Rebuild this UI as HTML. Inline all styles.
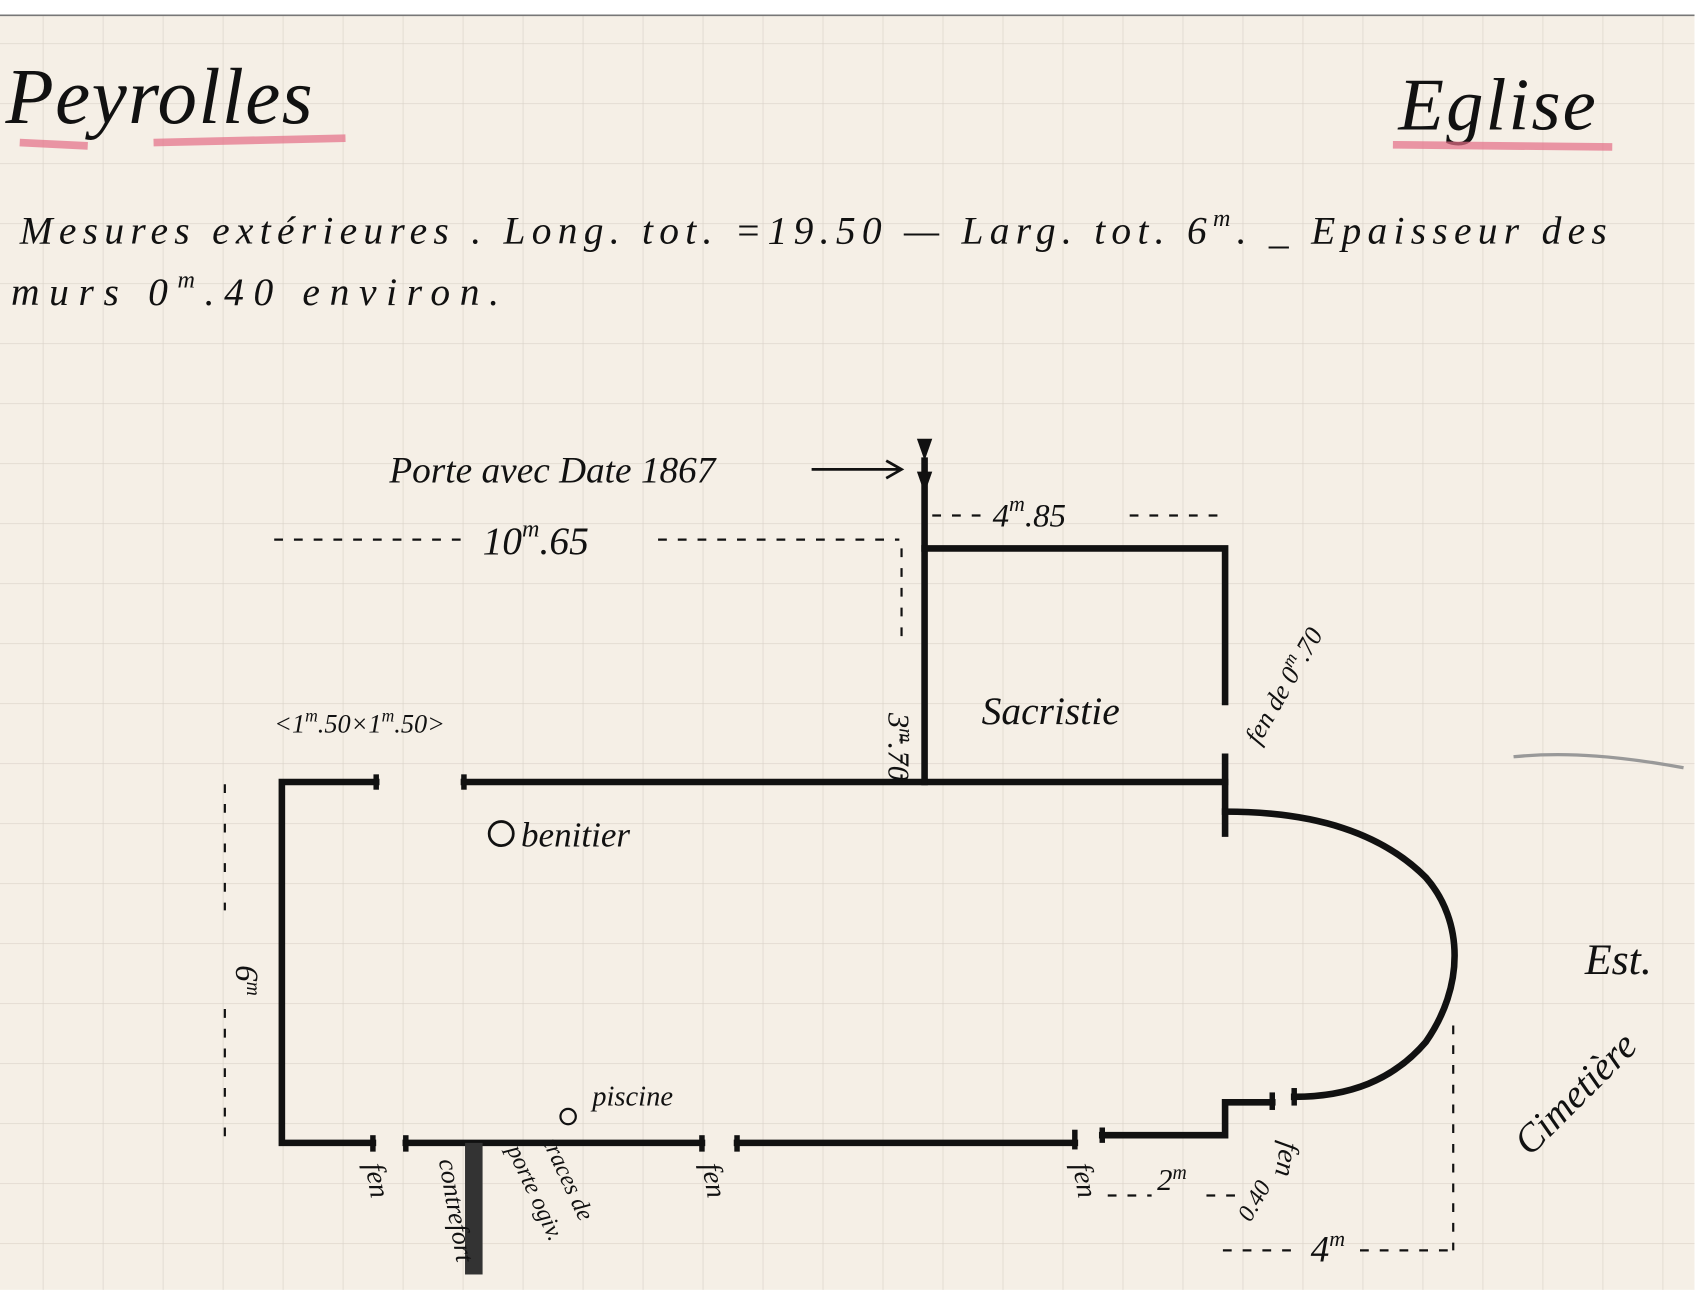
<!DOCTYPE html>
<html><head><meta charset="utf-8"><style>
html,body{margin:0;padding:0;background:#fff;}
svg{display:block;}
text{font-family:"Liberation Serif",serif;font-style:italic;fill:#111;}
</style></head><body>
<svg width="1700" height="1303" viewBox="0 0 1550 1188" preserveAspectRatio="none" xmlns="http://www.w3.org/2000/svg">
<defs>
<pattern id="g" x="39" y="39.5" width="54.7" height="54.7" patternUnits="userSpaceOnUse">
<path d="M0 0H54.7M0 0V54.7" stroke="#d9d2c8" stroke-width="1.2" fill="none"/>
</pattern>
</defs>
<rect x="0" y="0" width="1550" height="1188" fill="#fff"/>
<rect x="0" y="14" width="1545" height="1162" fill="#f5efe6"/>
<rect x="0" y="14" width="1545" height="1162" fill="url(#g)"/>
<line x1="0" y1="14" x2="1545" y2="14" stroke="#777" stroke-width="1.5"/>

<text x="5" y="112" font-size="72" textLength="280">Peyrolles</text>
<path d="M18 130 L80 133 M140 130 L315 126" stroke="#e46d86" stroke-width="7" opacity="0.7" fill="none"/>
<text x="1275" y="118" font-size="68" textLength="180">Eglise</text>
<path d="M1270 132 L1470 134" stroke="#e46d86" stroke-width="7" opacity="0.7" fill="none"/>
<text x="18" y="222" font-size="36" textLength="1447" lengthAdjust="spacing">Mesures extérieures . Long. tot. =19.50 — Larg. tot. 6<tspan font-size="22" dy="-16">m</tspan><tspan dy="16">. _ Epaisseur des</tspan></text>
<text x="10" y="278" font-size="36" textLength="445" lengthAdjust="spacing">murs  0<tspan font-size="22" dy="-16">m</tspan><tspan dy="16">.40 environ.</tspan></text>

<g stroke="#111" stroke-width="6" fill="none" stroke-linecap="square">
<path d="M343 713 H257 V1042 H340"/>
<path d="M423 713 H1117"/>
<path d="M370 1042 H640"/>
<path d="M672 1042 H980"/>
<path d="M1005 1035 H1117 V1005 H1160"/>
<path d="M843 420 V713"/>
<path d="M843 500 H1117 V640"/>
<path d="M1117 690 V760"/>
<path d="M1117 740 C1200 740 1260 760 1300 800 C1335 840 1335 900 1300 950 C1270 985 1230 1000 1180 1000"/>
</g>
<g stroke="#111" stroke-width="5">
<line x1="343" y1="706" x2="343" y2="720"/><line x1="423" y1="706" x2="423" y2="720"/>
<line x1="340" y1="1035" x2="340" y2="1050"/><line x1="370" y1="1035" x2="370" y2="1050"/>
<line x1="640" y1="1035" x2="640" y2="1050"/><line x1="672" y1="1035" x2="672" y2="1050"/>
<line x1="980" y1="1030" x2="980" y2="1048"/><line x1="1005" y1="1028" x2="1005" y2="1042"/>
<line x1="1160" y1="996" x2="1160" y2="1012"/><line x1="1180" y1="992" x2="1180" y2="1008"/>
</g>
<rect x="424" y="1042" width="16" height="120" fill="#333"/>
<circle cx="457" cy="760" r="11" stroke="#111" stroke-width="2.5" fill="none"/>
<circle cx="518" cy="1018" r="7" stroke="#111" stroke-width="2" fill="none"/>
<path d="M836 400 L850 400 L843 420 Z M836 430 L850 430 L843 450Z" fill="#111"/>

<g stroke="#111" stroke-width="2" stroke-dasharray="8 10" fill="none">
<path d="M250 492 H420 M600 492 H820"/>
<path d="M850 470 H900 M1030 470 H1115"/>
<path d="M822 500 V580 M822 670 V710"/>
<path d="M205 715 V830 M205 920 V1040"/>
<path d="M1010 1090 H1050 M1100 1090 H1130"/>
<path d="M1115 1140 H1180 M1240 1140 H1330"/>
<path d="M1325 935 V1140"/>
</g>
<path d="M740 428 H822 M808 420 L822 428 L808 436" stroke="#111" stroke-width="2.5" fill="none"/>

<text x="355" y="440" font-size="34">Porte avec Date 1867</text>
<text x="440" y="505" font-size="36">10<tspan font-size="22" dy="-16">m</tspan><tspan dy="16">.65</tspan></text>
<text x="905" y="480" font-size="30">4<tspan font-size="20" dy="-14">m</tspan><tspan dy="14">.85</tspan></text>
<text x="250" y="668" font-size="24">&lt;1<tspan font-size="16" dy="-10">m</tspan><tspan dy="10">.50×1</tspan><tspan font-size="16" dy="-10">m</tspan><tspan dy="10">.50&gt;</tspan></text>
<text x="895" y="660" font-size="36">Sacristie</text>
<text x="475" y="772" font-size="32">benitier</text>
<text x="540" y="1008" font-size="26">piscine</text>
<text x="1445" y="888" font-size="40">Est.</text>
<text transform="translate(1395 1055) rotate(-45)" font-size="36">Cimetière</text>
<text transform="translate(1148 680) rotate(-60)" font-size="24">fen de 0<tspan font-size="16" dy="-10">m</tspan><tspan dy="10">.70</tspan></text>
<text transform="translate(810 650) rotate(90)" font-size="28">3<tspan font-size="18" dy="-10">m</tspan><tspan dy="10">.70</tspan></text>
<text transform="translate(215 880) rotate(90)" font-size="30">6<tspan font-size="18" dy="-10">m</tspan></text>
<text transform="translate(333 1062) rotate(80)" font-size="26">fen</text>
<text transform="translate(400 1058) rotate(80)" font-size="24">contrefort</text>
<text transform="translate(462 1048) rotate(65)" font-size="22">porte ogiv.</text>
<text transform="translate(495 1042) rotate(65)" font-size="22">traces de</text>
<text transform="translate(640 1062) rotate(80)" font-size="26">fen</text>
<text transform="translate(978 1062) rotate(80)" font-size="26">fen</text>
<text transform="translate(1168 1040) rotate(100)" font-size="26">fen</text>
<text x="1055" y="1085" font-size="28">2<tspan font-size="18" dy="-10">m</tspan></text>
<text transform="translate(1140 1115) rotate(-60)" font-size="22">0.40</text>
<text x="1195" y="1150" font-size="34">4<tspan font-size="20" dy="-14">m</tspan></text>
<path d="M1380 690 C1430 685 1480 690 1535 700" stroke="#999" stroke-width="3" fill="none"/>
</svg>
</body></html>
